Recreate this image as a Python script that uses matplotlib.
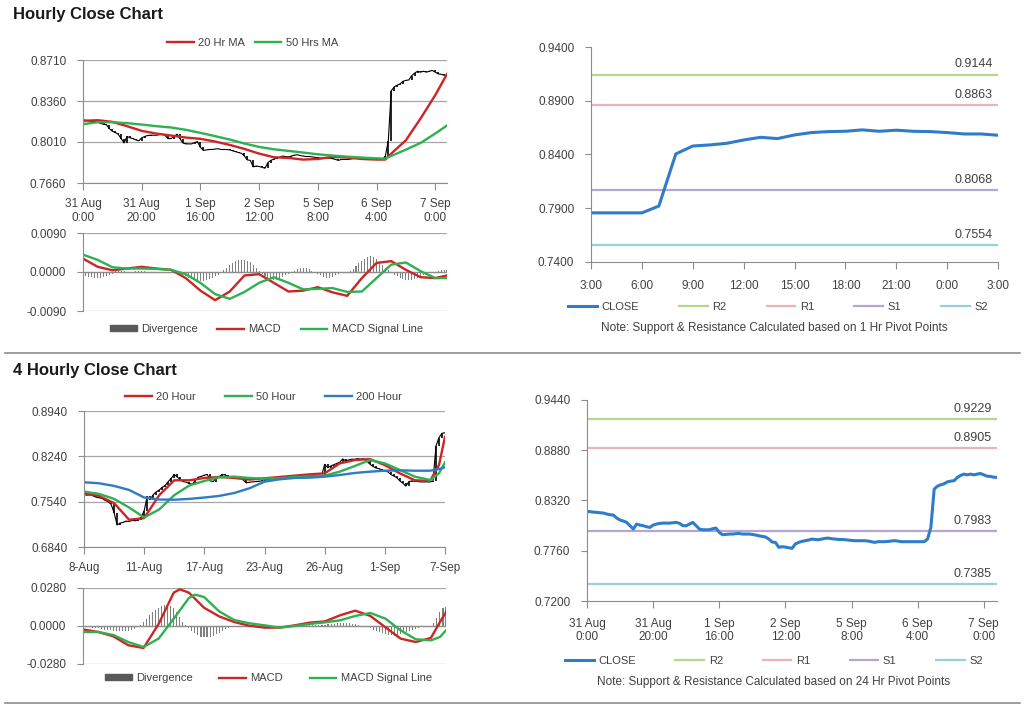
import numpy as np
import matplotlib.pyplot as plt
from matplotlib.lines import Line2D
from matplotlib.patches import Patch

plt.rcParams['font.family'] = ['Liberation Sans', 'DejaVu Sans']
plt.rcParams['font.size'] = 8.5

TXT = '#404040'
AXC = '#8c8c8c'
GRID = '#a6a6a6'
RED = '#cc2525'
GREEN = '#2eb150'
BLUE = '#2d7cc4'
CLOSE_C = '#2f7cc9'
PIV_COLORS = ['#b6d68e', '#e8b4b4', '#b4a5d3', '#96cfe0']

# ---- hourly data: 31 Aug 0:00 .. 7 Sep 4:00 (one value per bar)
hourly_close = [
    0.8198, 0.8195, 0.8190, 0.8187, 0.8184, 0.8180, 0.8169, 0.8161, 0.8157, 0.8124,
    0.8102, 0.8091, 0.8076, 0.8039, 0.8002, 0.8057, 0.8046, 0.8039, 0.8028, 0.8020,
    0.8046, 0.8057, 0.8065, 0.8068, 0.8068, 0.8068, 0.8072, 0.8076, 0.8065, 0.8039,
    0.8039, 0.8057, 0.8076, 0.8039, 0.8002, 0.7994, 0.7994, 0.7994, 0.8005, 0.8013,
    0.7965, 0.7938, 0.7942, 0.7946, 0.7946, 0.7950, 0.7953, 0.7946, 0.7946, 0.7946,
    0.7942, 0.7935, 0.7927, 0.7920, 0.7913, 0.7890, 0.7857, 0.7853, 0.7798, 0.7805,
    0.7801, 0.7794, 0.7786, 0.7835, 0.7853, 0.7864, 0.7872, 0.7879, 0.7890, 0.7886,
    0.7883, 0.7890, 0.7898, 0.7901, 0.7894, 0.7890, 0.7886, 0.7886, 0.7883, 0.7879,
    0.7875, 0.7872, 0.7872, 0.7872, 0.7872, 0.7868, 0.7861, 0.7853, 0.7861, 0.7861,
    0.7861, 0.7864, 0.7868, 0.7872, 0.7868, 0.7861, 0.7861, 0.7861, 0.7861, 0.7861,
    0.7861, 0.7861, 0.7861, 0.7890, 0.8020, 0.8447, 0.8480, 0.8495, 0.8506, 0.8528,
    0.8536, 0.8540, 0.8577, 0.8599, 0.8614, 0.8606, 0.8614, 0.8606, 0.8614, 0.8621,
    0.8606, 0.8591, 0.8588, 0.8580, 0.8577]
hourly_labels = ['31 Aug\n0:00', '31 Aug\n20:00', '1 Sep\n16:00', '2 Sep\n12:00',
                 '5 Sep\n8:00', '6 Sep\n4:00', '7 Sep\n0:00']
hourly_label_pos = [0, 20, 40, 60, 80, 100, 120]

ma_idx_h = [0, 5, 10, 15, 20, 25, 30, 35, 40, 45, 50, 55, 60, 65, 70, 75, 80, 85,
            90, 95, 100, 103, 105, 110, 115, 120, 124]
ma20_h = [0.8191, 0.8196, 0.8182, 0.8145, 0.8105, 0.8082, 0.8065, 0.8048, 0.8037,
          0.8014, 0.7985, 0.7951, 0.7911, 0.7880, 0.7874, 0.7860, 0.7865, 0.7883,
          0.7877, 0.7865, 0.7860, 0.7860, 0.7911, 0.8025, 0.8211, 0.8410, 0.8590]
ma50_h = [0.8162, 0.8179, 0.8179, 0.8171, 0.8159, 0.8145, 0.8134, 0.8114, 0.8088,
          0.8060, 0.8031, 0.7997, 0.7968, 0.7948, 0.7934, 0.7920, 0.7905, 0.7894,
          0.7885, 0.7877, 0.7871, 0.7868, 0.7891, 0.7945, 0.8002, 0.8082, 0.8151]

macd_idx_h = [0, 5, 10, 15, 20, 25, 30, 35, 40, 45, 50, 55, 60, 65, 70, 75, 80,
              85, 90, 95, 100, 105, 110, 115, 120, 124]
macd_h = [0.0031, 0.0012, 0.0004, 0.0008, 0.0012, 0.0008, 0.0005, -0.0014, -0.0043,
          -0.0065, -0.0045, -0.0008, -0.0005, -0.0025, -0.0045, -0.0043, -0.0035,
          -0.0047, -0.0055, -0.0014, 0.0021, 0.0025, 0.0005, -0.0012, -0.0014, -0.0008]
signal_h = [0.0040, 0.0028, 0.0011, 0.0008, 0.0008, 0.0007, 0.0005, -0.0005, -0.0025,
            -0.0051, -0.0062, -0.0046, -0.0025, -0.0012, -0.0025, -0.0040, -0.0039,
            -0.0037, -0.0046, -0.0045, -0.0014, 0.0017, 0.0022, 0.0002, -0.0014, -0.0014]
diverg_h = [
    -0.0008, -0.0010, -0.0011, -0.0012, -0.0013, -0.0013, -0.0013, -0.0012, -0.0010, -0.0008,
    -0.0005, 0.0002, 0.0003, 0.0003, 0.0002, 0.0001, 0.0000, 0.0001, 0.0002, 0.0003,
    0.0003, 0.0002, 0.0001, 0.0000, 0.0000, 0.0001, 0.0001, 0.0001, 0.0000, -0.0001,
    -0.0002, -0.0002, -0.0003, -0.0005, -0.0007, -0.0010, -0.0013, -0.0016, -0.0018, -0.0020,
    -0.0021, -0.0020, -0.0018, -0.0016, -0.0013, -0.0010, -0.0006, -0.0002, 0.0004, 0.0010,
    0.0016, 0.0021, 0.0025, 0.0027, 0.0028, 0.0028, 0.0026, 0.0022, 0.0016, 0.0009,
    0.0002, -0.0004, -0.0009, -0.0013, -0.0016, -0.0018, -0.0018, -0.0016, -0.0012, -0.0008,
    -0.0004, 0.0000, 0.0003, 0.0006, 0.0009, 0.0010, 0.0009, 0.0006, 0.0003, -0.0001,
    -0.0004, -0.0008, -0.0011, -0.0013, -0.0013, -0.0011, -0.0008, -0.0005, -0.0003, -0.0001,
    0.0001, 0.0003, 0.0008, 0.0014, 0.0020, 0.0026, 0.0031, 0.0035, 0.0036, 0.0034,
    0.0030, 0.0024, 0.0017, 0.0010, 0.0004, -0.0002, -0.0006, -0.0010, -0.0013, -0.0016,
    -0.0018, -0.0019, -0.0019, -0.0017, -0.0014, -0.0010, -0.0006, -0.0003, -0.0001, 0.0000,
    0.0001, 0.0002, 0.0004, 0.0005, 0.0005]

# ---- last 24 hours (1 Hr pivot chart)
day_close = [0.7857, 0.7857, 0.7857, 0.7857, 0.7920, 0.8405, 0.8479, 0.8489, 0.8504,
             0.8535, 0.8560, 0.8548, 0.8582, 0.8604, 0.8613, 0.8616, 0.8629, 0.8616,
             0.8626, 0.8616, 0.8613, 0.8604, 0.8591, 0.8591, 0.8579]
day_labels = ['3:00', '6:00', '9:00', '12:00', '15:00', '18:00', '21:00', '0:00', '3:00']
day_label_pos = [0, 3, 6, 9, 12, 15, 18, 21, 24]

pivot_names = ['R2', 'R1', 'S1', 'S2']
pivots_1h = [0.9144, 0.8863, 0.8068, 0.7554]
pivots_24h = [0.9229, 0.8905, 0.7983, 0.7385]

# ---- 4 hourly data: 8 Aug .. 7 Sep
close_4h = [
    0.7650, 0.7640, 0.7645, 0.7630, 0.7610, 0.7600, 0.7590, 0.7560, 0.7540, 0.7500,
    0.7370, 0.7180, 0.7210, 0.7220, 0.7240, 0.7235, 0.7250, 0.7245, 0.7260, 0.7300,
    0.7400, 0.7620, 0.7570, 0.7650, 0.7690, 0.7720, 0.7760, 0.7790, 0.7850, 0.7900,
    0.7960, 0.7920, 0.7880, 0.7850, 0.7840, 0.7820, 0.7810, 0.7870, 0.7920, 0.7930,
    0.7950, 0.7960, 0.7860, 0.7850, 0.7920, 0.7930, 0.7960, 0.7950, 0.7930, 0.7920,
    0.7920, 0.7925, 0.7915, 0.7870, 0.7830, 0.7840, 0.7845, 0.7850, 0.7855, 0.7860,
    0.7885, 0.7885, 0.7890, 0.7895, 0.7895, 0.7900, 0.7905, 0.7910, 0.7915, 0.7920,
    0.7925, 0.7920, 0.7925, 0.7930, 0.7935, 0.7935, 0.7940, 0.7940, 0.7945, 0.7945,
    0.8116, 0.8065, 0.8090, 0.8110, 0.8130, 0.8150, 0.8200, 0.8170, 0.8185, 0.8195,
    0.8195, 0.8205, 0.8195, 0.8205, 0.8170, 0.8120, 0.8085, 0.8060, 0.8050, 0.8030,
    0.8015, 0.8000, 0.7960, 0.7935, 0.7910, 0.7860, 0.7825, 0.7780, 0.7850, 0.7860,
    0.7855, 0.7850, 0.7845, 0.7845, 0.7845, 0.7845, 0.7855, 0.8400, 0.8530, 0.8595,
    0.8605]
labels_4h = ['8-Aug', '11-Aug', '17-Aug', '23-Aug', '26-Aug', '1-Sep', '7-Sep']
label_pos_4h = [0, 20, 40, 60, 80, 100, 120]

ma_idx_4h = [0, 5, 10, 15, 20, 25, 30, 35, 40, 45, 50, 55, 60, 65, 70, 75, 80, 85,
             90, 95, 100, 105, 110, 115, 118, 120]
ma20_4h = [0.7670, 0.7629, 0.7517, 0.7261, 0.7286, 0.7640, 0.7870, 0.7870, 0.7906,
           0.7921, 0.7906, 0.7880, 0.7901, 0.7921, 0.7942, 0.7962, 0.7977, 0.8131,
           0.8182, 0.8198, 0.8105, 0.7977, 0.7870, 0.7860, 0.8105, 0.8541]
ma50_4h = [0.7696, 0.7660, 0.7583, 0.7450, 0.7296, 0.7420, 0.7640, 0.7790, 0.7860,
           0.7916, 0.7926, 0.7906, 0.7896, 0.7901, 0.7921, 0.7926, 0.7942, 0.8003,
           0.8090, 0.8182, 0.8131, 0.8029, 0.7926, 0.7875, 0.7977, 0.8146]
ma200_4h = [0.7839, 0.7824, 0.7783, 0.7721, 0.7604, 0.7573, 0.7570, 0.7583, 0.7604,
            0.7629, 0.7675, 0.7747, 0.7849, 0.7885, 0.7906, 0.7911, 0.7926, 0.7952,
            0.7983, 0.8003, 0.8018, 0.8024, 0.8018, 0.8018, 0.8044, 0.8070]

macd_idx_4h = [0, 5, 10, 15, 20, 25, 30, 32, 35, 40, 45, 50, 55, 60, 65, 70, 75, 80,
               85, 90, 95, 100, 105, 110, 115, 118, 120]
macd_4h = [-0.0025, -0.0044, -0.0076, -0.0142, -0.0162, 0.0015, 0.0246, 0.0270, 0.0246,
           0.0135, 0.0071, 0.0029, 0.0002, -0.0012, -0.0012, 0.0005, 0.0025, 0.0034,
           0.0079, 0.0113, 0.0074, -0.0010, -0.0093, -0.0118, -0.0088, 0.0029, 0.0103]
signal_idx_4h = [0, 5, 10, 15, 20, 25, 30, 35, 37, 40, 45, 50, 55, 60, 65, 70, 75, 80,
                 85, 90, 95, 100, 105, 110, 115, 118, 120]
signal_4h = [-0.0044, -0.0044, -0.0066, -0.0118, -0.0155, -0.0093, 0.0054, 0.0206, 0.0231,
             0.0214, 0.0108, 0.0044, 0.0020, 0.0005, -0.0012, 0.0000, 0.0015, 0.0027,
             0.0042, 0.0074, 0.0096, 0.0054, -0.0032, -0.0098, -0.0106, -0.0081, -0.0032]
diverg_4h = [
    -0.0005, -0.0008, -0.0010, -0.0012, -0.0015, -0.0018, -0.0022, -0.0026, -0.0030, -0.0033,
    -0.0036, -0.0038, -0.0040, -0.0040, -0.0038, -0.0034, -0.0028, -0.0020, -0.0010, 0.0010,
    0.0030, 0.0055, 0.0080, 0.0100, 0.0120, 0.0135, 0.0148, 0.0155, 0.0158, 0.0150,
    0.0130, 0.0100, 0.0065, 0.0030, 0.0005, -0.0015, -0.0035, -0.0055, -0.0068, -0.0078,
    -0.0082, -0.0082, -0.0078, -0.0070, -0.0060, -0.0048, -0.0036, -0.0025, -0.0016, -0.0010,
    -0.0006, -0.0004, -0.0003, -0.0002, -0.0002, -0.0001, -0.0001, 0.0000, -0.0002, -0.0003,
    -0.0004, -0.0005, -0.0004, -0.0003, -0.0002, 0.0000, 0.0002, 0.0003, 0.0004, 0.0005,
    0.0005, 0.0006, 0.0006, 0.0007, 0.0007, 0.0008, 0.0008, 0.0009, 0.0010, 0.0010,
    0.0011, 0.0013, 0.0016, 0.0018, 0.0020, 0.0022, 0.0023, 0.0022, 0.0020, 0.0016,
    0.0012, 0.0008, 0.0003, -0.0002, -0.0010, -0.0018, -0.0026, -0.0034, -0.0042, -0.0050,
    -0.0058, -0.0064, -0.0068, -0.0070, -0.0068, -0.0062, -0.0055, -0.0047, -0.0038, -0.0030,
    -0.0022, -0.0015, -0.0010, -0.0006, -0.0003, 0.0000, 0.0020, 0.0060, 0.0100, 0.0130,
    0.0140]

W, H = 1024, 706
fig = plt.figure(figsize=(W / 100, H / 100), dpi=100)


def box(l, t, r, b):
    return [l / W, 1 - b / H, (r - l) / W, (b - t) / H]


def fig_legend(handles, x0, x1, yc, handlelength=2.4, handleheight=0.7):
    fig.legend(handles=handles, loc='center', ncol=len(handles), mode='expand',
               bbox_to_anchor=(x0 / W, 1 - yc / H - 0.01, (x1 - x0) / W, 0.02),
               frameon=False, borderaxespad=0, borderpad=0, fontsize=8,
               handlelength=handlelength, handleheight=handleheight,
               handletextpad=0.4, labelcolor=TXT)


def price_panel(rect, close, ma_idx, mas, colors, yticks, xmax, lab_pos, labs, pad):
    ax = fig.add_axes(rect)
    c = np.asarray(close)
    o = np.r_[c[0], c[:-1]]
    x = np.arange(len(c))
    ax.vlines(x, np.minimum(o, c), np.maximum(o, c), color='black', lw=1.2)
    ax.plot(x, c, color='black', lw=0.8)
    for m, col in zip(mas, colors):
        ax.plot(ma_idx, m, color=col, lw=1.7)
    ax.set_xlim(0, xmax)
    ax.set_ylim(yticks[0], yticks[-1])
    ax.set_yticks(yticks)
    ax.set_yticklabels(['%.4f' % v for v in yticks])
    ax.set_xticks(lab_pos)
    ax.set_xticklabels(labs, linespacing=1.2)
    ax.grid(axis='y', color=GRID, lw=0.9)
    ax.set_axisbelow(True)
    for s in ['top', 'right']:
        ax.spines[s].set_visible(False)
    for s in ['left', 'bottom']:
        ax.spines[s].set_color(AXC)
    ax.tick_params(axis='y', length=4, color=AXC, labelcolor=TXT, pad=8)
    ax.tick_params(axis='x', length=5, color=AXC, labelcolor=TXT, pad=pad)
    return ax


def macd_panel(rect, m_idx, macd, s_idx, sig, div, lim, xmax):
    ax = fig.add_axes(rect)
    ax.bar(np.arange(len(div)), div, width=0.35, color='#7f7f7f')
    ax.axhline(0, color='#8c8c8c', lw=0.9)
    ax.plot(m_idx, macd, color=RED, lw=1.7)
    ax.plot(s_idx, sig, color=GREEN, lw=1.7)
    ax.set_xlim(0, xmax)
    ax.set_ylim(-lim, lim)
    ax.set_yticks([-lim, 0, lim])
    ax.set_yticklabels(['%.4f' % v for v in [-lim, 0, lim]])
    ax.set_xticks([])
    ax.grid(axis='y', color=GRID, lw=0.9)
    ax.set_axisbelow(True)
    for s in ['top', 'right', 'bottom']:
        ax.spines[s].set_visible(False)
    ax.spines['left'].set_color(AXC)
    ax.tick_params(axis='y', length=4, color=AXC, labelcolor=TXT, pad=8)
    return ax


def pivot_panel(rect, close, pivots, yticks, xmax, lab_pos, labs, pad):
    ax = fig.add_axes(rect)
    for v, col in zip(pivots, PIV_COLORS):
        ax.axhline(v, color=col, lw=1.6)
        ax.annotate('%.4f' % v, xy=(xmax, v), xytext=(-4, 3), textcoords='offset points',
                    ha='right', va='bottom', fontsize=9, color=TXT)
    ax.plot(np.arange(len(close)), close, color=CLOSE_C, lw=2.2)
    ax.set_xlim(0, xmax)
    ax.set_ylim(yticks[0], yticks[-1])
    ax.set_yticks(yticks)
    ax.set_yticklabels(['%.4f' % v for v in yticks])
    ax.set_xticks(lab_pos)
    ax.set_xticklabels(labs, linespacing=1.2)
    for s in ['top', 'right']:
        ax.spines[s].set_visible(False)
    for s in ['left', 'bottom']:
        ax.spines[s].set_color(AXC)
    ax.tick_params(axis='y', length=4, color=AXC, labelcolor=TXT, pad=8)
    ax.tick_params(axis='x', length=5, color=AXC, labelcolor=TXT, pad=pad)
    return ax


# titles and separators
fig.text(13 / W, 1 - 15 / H, 'Hourly Close Chart', fontsize=12, fontweight='bold',
         va='center', color='#1a1a1a')
fig.text(13 / W, 1 - 370 / H, '4 Hourly Close Chart', fontsize=12, fontweight='bold',
         va='center', color='#1a1a1a')
for yy in [353, 703]:
    fig.add_artist(Line2D([5 / W, 1020 / W], [1 - yy / H] * 2, color='#8c8c8c', lw=1.2))

# hourly chart
price_panel(box(83, 60, 447, 183), hourly_close, ma_idx_h, [ma20_h, ma50_h], [RED, GREEN],
            [0.7660, 0.8010, 0.8360, 0.8710], 124, hourly_label_pos, hourly_labels, 6)
fig_legend([Line2D([], [], color=RED, lw=1.7, label='20 Hr MA'),
            Line2D([], [], color=GREEN, lw=1.7, label='50 Hrs MA')], 167, 338, 43)
macd_panel(box(83, 233, 447, 311), macd_idx_h, macd_h, macd_idx_h, signal_h, diverg_h,
           0.009, 124)
macd_handles = [Patch(color='#595959', label='Divergence'),
                Line2D([], [], color=RED, lw=1.7, label='MACD'),
                Line2D([], [], color=GREEN, lw=1.7, label='MACD Signal Line')]
fig_legend(macd_handles, 110, 423, 329, handleheight=0.45)

# 1 hr pivot chart
pivot_panel(box(591, 47, 998, 262), day_close, pivots_1h,
            [0.7400, 0.7900, 0.8400, 0.8900, 0.9400], 24, day_label_pos, day_labels, 8)
piv_handles = [Line2D([], [], color=CLOSE_C, lw=2.2, label='CLOSE')] + \
    [Line2D([], [], color=c, lw=1.6, label=n) for n, c in zip(pivot_names, PIV_COLORS)]
fig_legend(piv_handles, 568, 988, 307, handlelength=2.6)
fig.text(774 / W, 1 - 328 / H, 'Note: Support & Resistance Calculated based on 1 Hr Pivot Points',
         ha='center', va='center', fontsize=8.5, color=TXT)

# 4 hourly chart
price_panel(box(84, 411, 445, 547), close_4h, ma_idx_4h, [ma20_4h, ma50_4h, ma200_4h],
            [RED, GREEN, BLUE], [0.6840, 0.7540, 0.8240, 0.8940], 120,
            label_pos_4h, labels_4h, 6)
fig_legend([Line2D([], [], color=RED, lw=1.7, label='20 Hour'),
            Line2D([], [], color=GREEN, lw=1.7, label='50 Hour'),
            Line2D([], [], color=BLUE, lw=1.7, label='200 Hour')], 125, 402, 397)
macd_panel(box(83, 588, 446, 664), macd_idx_4h, macd_4h, signal_idx_4h, signal_4h,
           diverg_4h, 0.028, 120)
fig_legend(macd_handles, 105, 432, 678, handleheight=0.45)

# 24 hr pivot chart
pivot_panel(box(587, 400, 997, 601), hourly_close, pivots_24h,
            [0.7200, 0.7760, 0.8320, 0.8880, 0.9440], 124, hourly_label_pos, hourly_labels, 7)
fig_legend(piv_handles, 565, 983, 661, handlelength=2.6)
fig.text(774 / W, 1 - 682 / H, 'Note: Support & Resistance Calculated based on 24 Hr Pivot Points',
         ha='center', va='center', fontsize=8.5, color=TXT)

fig.savefig('out.png', dpi=100, facecolor='white')
